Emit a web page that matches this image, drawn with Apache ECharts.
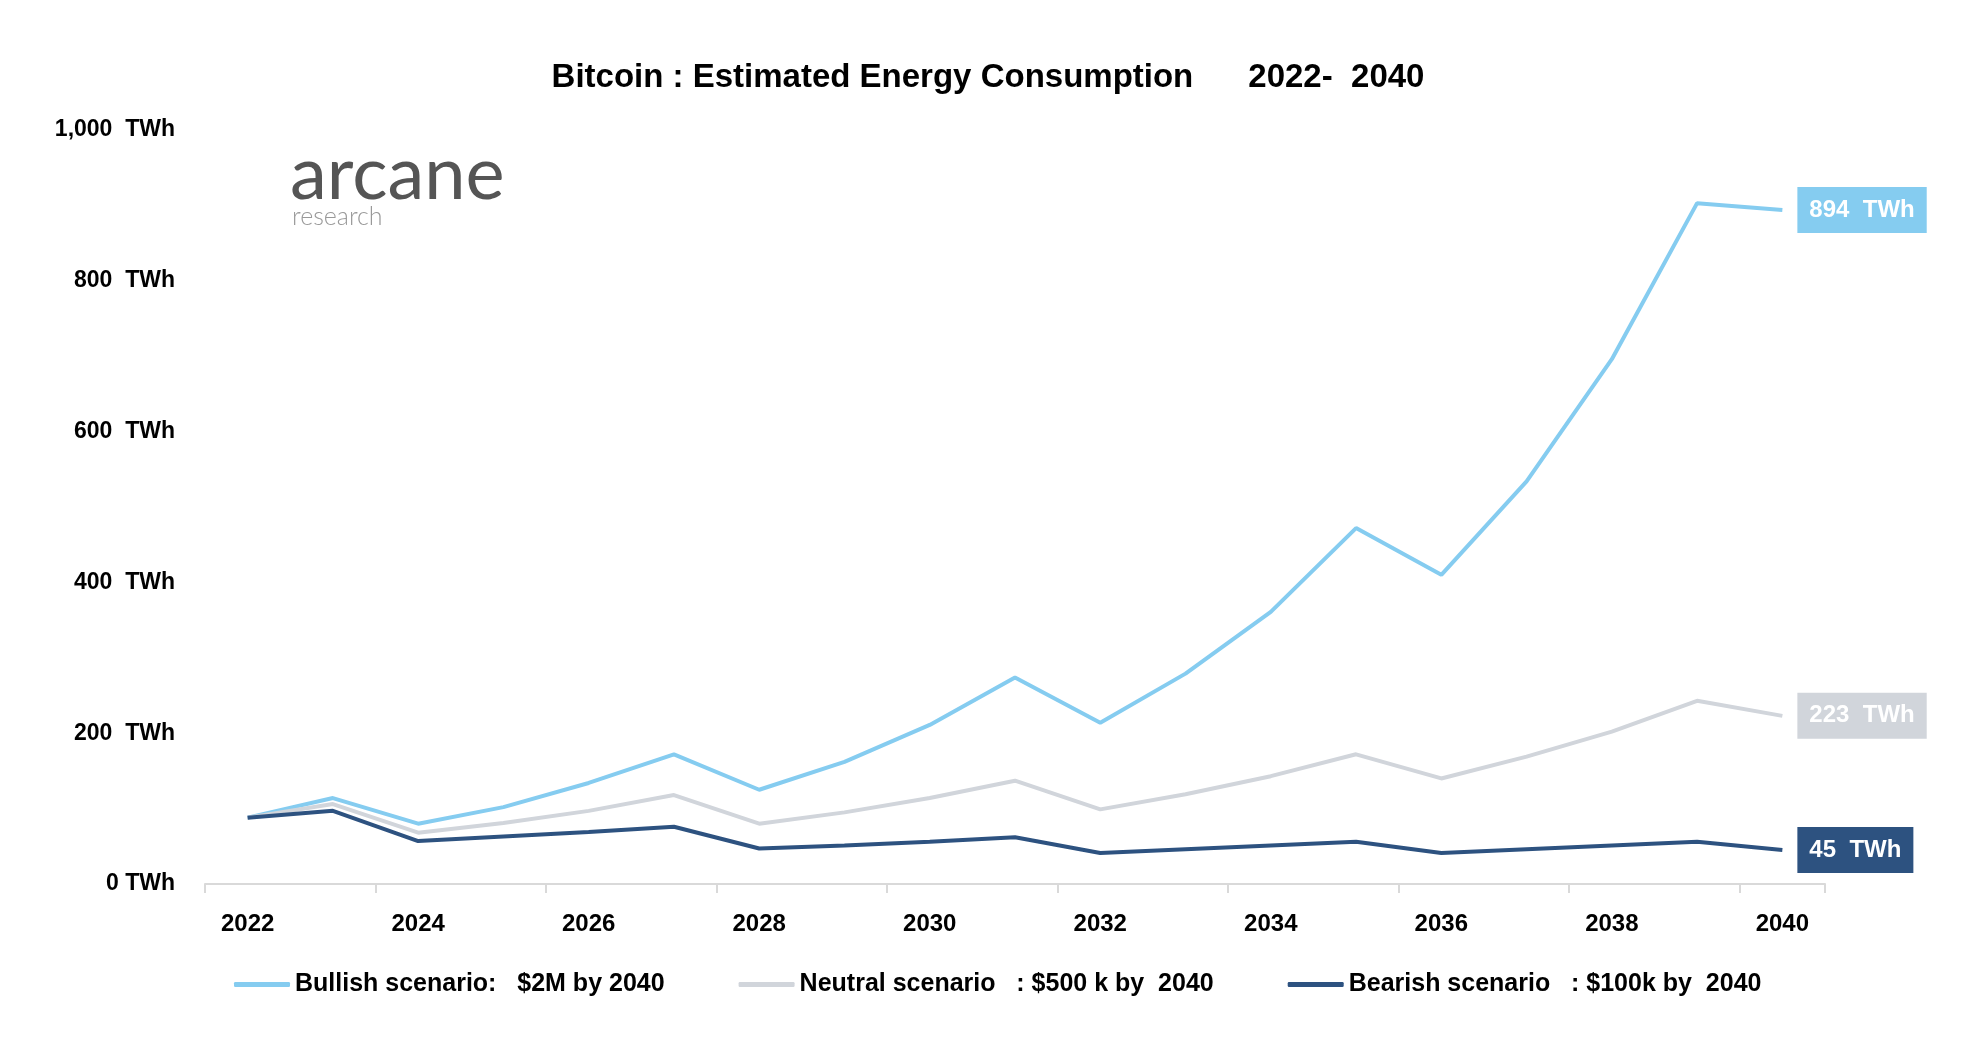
<!DOCTYPE html>
<html>
<head>
<meta charset="utf-8">
<script src="https://cdn.jsdelivr.net/npm/echarts@6/dist/echarts.min.js"></script>
<style>
html,body{margin:0;padding:0;background:#fff;}
#chart{width:1976px;height:1044px;}
</style>
</head>
<body>
<div id="chart"></div>
<script>
var years = ['2022','2023','2024','2025','2026','2027','2028','2029','2030','2031','2032','2033','2034','2035','2036','2037','2038','2039','2040'];
var bullish = [88, 114, 80, 102, 134, 172, 125, 162, 211, 274, 214, 279, 361, 472, 410, 534, 696, 903, 894];
var neutral = [88, 106, 68, 81, 97, 118, 80, 95, 114, 137, 99, 119, 143, 172, 140, 169, 202, 243, 223];
var bearish = [88, 97, 57, 63, 69, 76, 47, 51, 56, 62, 41, 46, 51, 56, 41, 46, 51, 56, 45];
var seriesNames = ['Bullish scenario:   $2M by 2040', 'Neutral scenario   : $500 k by  2040', 'Bearish scenario   : $100k by  2040'];
var yTicks = [0, 200, 400, 600, 800, 1000];

var FONT = "'Liberation Sans', Arial, Helvetica, sans-serif";
var colors = ['#85CCF0', '#D1D5DB', '#2D5280'];

function endLbl(color) {
  return {
    show: true,
    distance: 15,
    formatter: function (p) { return p.value + '  TWh'; },
    color: '#fff',
    fontFamily: FONT,
    fontWeight: 'bold',
    fontSize: 24,
    backgroundColor: color,
    padding: [11, 12, 11, 12]
  };
}

function mk(name, data, color) {
  return {
    name: name,
    type: 'line',
    data: data,
    symbol: 'none',
    lineStyle: { color: color, width: 4 },
    itemStyle: { color: color },
    endLabel: endLbl(color),
    emphasis: { disabled: true }
  };
}

var chart = echarts.init(document.getElementById('chart'));
chart.setOption({
  backgroundColor: '#fff',
  animation: false,
  title: {
    text: 'Bitcoin : Estimated Energy Consumption      2022-  2040',
    left: 'center',
    top: 56,
    textStyle: { fontFamily: FONT, fontWeight: 'bold', fontSize: 33, color: '#000' }
  },
  legend: {
    bottom: 42,
    left: 229,
    itemWidth: 56,
    itemHeight: 5,
    itemGap: 74,
    icon: 'roundRect',
    textStyle: { fontFamily: FONT, fontWeight: 'bold', fontSize: 25, color: '#000' },
    data: seriesNames
  },
  graphic: [
    { type: 'text', left: 290, top: 138, style: { text: 'arcane', fontFamily: "Lato, 'Open Sans', sans-serif", fontWeight: 400, fontSize: 74, fill: '#555' } },
    { type: 'text', left: 292, top: 204, style: { text: 'research', fontFamily: "Lato, 'Open Sans', sans-serif", fontWeight: 300, fontSize: 25, fill: '#999' } }
  ],
  grid: { left: 205, right: 151, top: 130, bottom: 160 },
  xAxis: {
    type: 'category',
    data: years,
    boundaryGap: true,
    axisLine: { lineStyle: { color: '#D9D9D9', width: 2 } },
    axisTick: { show: true, interval: 1, length: 9, lineStyle: { color: '#D9D9D9', width: 2 } },
    axisLabel: { interval: 1, margin: 28, fontFamily: FONT, fontWeight: 'bold', fontSize: 24, color: '#000' }
  },
  yAxis: {
    type: 'value',
    min: yTicks[0],
    max: yTicks[yTicks.length - 1],
    interval: 200,
    splitLine: { show: false },
    axisLine: { show: false },
    axisTick: { show: false },
    axisLabel: {
      margin: 30,
      fontFamily: FONT, fontWeight: 'bold', fontSize: 23, color: '#000',
      formatter: function (v) { return v === 0 ? '0 TWh' : v.toLocaleString('en-US') + '  TWh'; }
    }
  },
  series: [
    mk(seriesNames[0], bullish, colors[0]),
    mk(seriesNames[1], neutral, colors[1]),
    mk(seriesNames[2], bearish, colors[2])
  ]
});
</script>
</body>
</html>
